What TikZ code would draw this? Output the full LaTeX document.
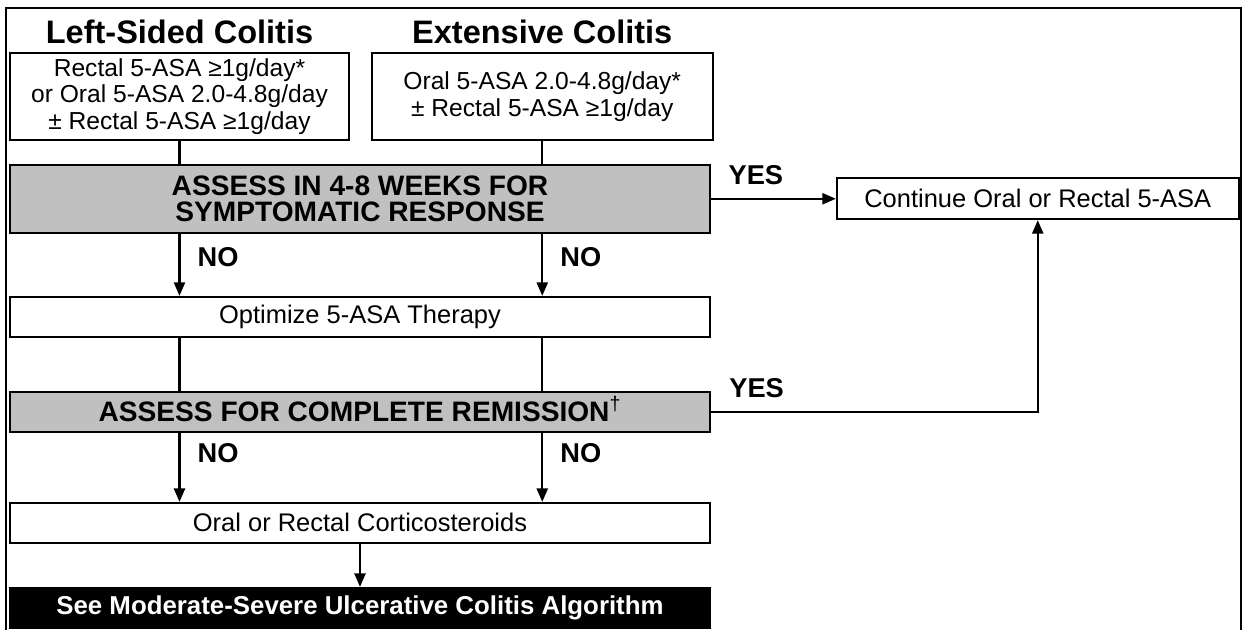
\documentclass[tikz,border=0pt]{standalone}
\usepackage{fontspec}
\setmainfont{Liberation Sans}
\usepackage{tikz}
\usetikzlibrary{arrows.meta,positioning}
\definecolor{boxgrey}{RGB}{192,192,192}

\begin{document}
\begin{tikzpicture}[>={Triangle[length=0.27cm,width=0.22cm]},line width=1.3pt,
    plain box/.style={draw,fill=white,inner sep=0pt,line width=1pt,minimum height=0.8cm,
                      align=center,font=\fontsize{14.5}{14}\selectfont},
    top box/.style={plain box,minimum height=1.74cm,font=\fontsize{14}{15}\selectfont},
    grey box/.style={plain box,fill=boxgrey,minimum width=14cm,font=\fontsize{16}{15}\selectfont\bfseries},
    dark box/.style={plain box,fill=black,text=white,minimum width=14cm,font=\fontsize{14.7}{14}\selectfont\bfseries},
    head/.style={inner sep=0pt,font=\fontsize{18.5}{18}\selectfont\bfseries},
    answer/.style={inner sep=0pt,font=\fontsize{15.5}{15}\selectfont\bfseries}]

\useasboundingbox (0,0) rectangle (24.94,-12.6);
\draw[line width=1pt] (0.12,-12.6) |- (24.82,-0.16) -- (24.82,-12.6);

\node[top box,minimum width=6.78cm] (left) at (3.59,-1.93)
    {Rectal 5-ASA ≥1g/day*\\or Oral 5-ASA 2.0-4.8g/day\\± Rectal 5-ASA ≥1g/day};
\node[top box,minimum width=6.82cm,right=0.42cm of left] (extensive)
    {Oral 5-ASA 2.0-4.8g/day*\\± Rectal 5-ASA ≥1g/day};
\node[head] (lefthead) at ([yshift=0.4cm]left.north) {Left-Sided Colitis};
\node[head] (exthead) at ([yshift=0.4cm]extensive.north) {Extensive Colitis};

\node[grey box,minimum height=1.36cm,below=0.46cm of left.south west,anchor=north west] (assess1)
    {ASSESS IN 4-8 WEEKS FOR\\SYMPTOMATIC RESPONSE};
\node[plain box,minimum width=8.04cm,minimum height=0.82cm,right=2.5cm of assess1] (continue)
    {Continue Oral or Rectal 5-ASA};
\node[plain box,minimum width=14cm,below=1.245cm of assess1] (optimize) {Optimize 5-ASA Therapy};
\node[grey box,below=1.065cm of optimize] (remission)
    {ASSESS FOR COMPLETE REMISSION\smash{\textsuperscript{\normalfont †}}};
\node[plain box,minimum width=14cm,below=1.385cm of remission] (cortico) {Oral or Rectal Corticosteroids};
\node[dark box,below=0.865cm of cortico] (algo) {See Moderate-Severe Ulcerative Colitis Algorithm};

% first assessment
\draw (left) -- (left |- assess1.north);
\draw (extensive) -- (extensive |- assess1.north);
\draw[->] (assess1.south -| left) -- node[answer,pos=0.38,right=0.34cm] {NO} (optimize.north -| left);
\draw[->] (assess1.south -| extensive) -- node[answer,pos=0.38,right=0.34cm] {NO} (optimize.north -| extensive);
\draw[->] (assess1.east) -- node[answer,pos=0.36,above=0.25cm] {YES} (continue.west |- assess1.east);

% second assessment
\draw (optimize.south -| left) -- (remission.north -| left);
\draw (optimize.south -| extensive) -- (remission.north -| extensive);
\draw[->] (remission.south -| left) -- node[answer,pos=0.3,right=0.34cm] {NO} (cortico.north -| left);
\draw[->] (remission.south -| extensive) -- node[answer,pos=0.3,right=0.34cm] {NO} (cortico.north -| extensive);
\draw[->] (remission.east) -- node[answer,pos=0.14,above=0.25cm] {YES} (remission.east -| continue.south)
    -- (continue.south);

\draw[->] (cortico) -- (algo);
\end{tikzpicture}
\end{document}
